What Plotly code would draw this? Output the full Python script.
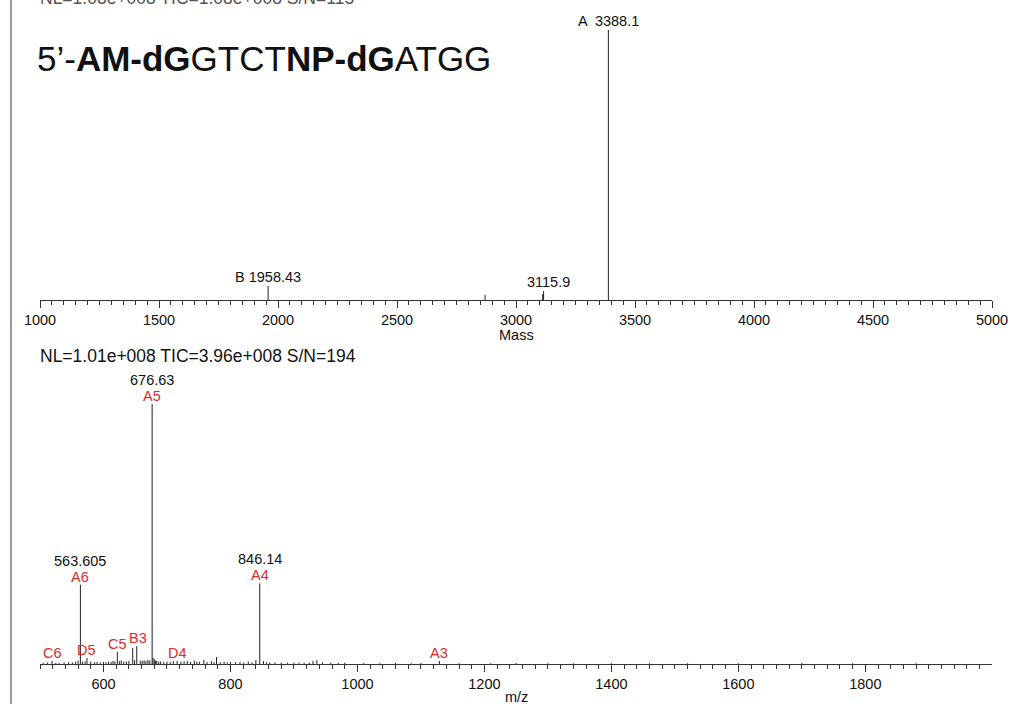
import plotly.graph_objects as go

W, H = 1019, 704
FONT = "Liberation Sans, Arial, sans-serif"
RED = "#dd2a2a"
INK = "#222222"

# ---- deconvoluted mass spectrum (relative intensity, %) ----
mass_vals = [1958.43, 2870.0, 3112.0, 3115.9, 3388.1]
mass_int = [5.2, 1.9, 2.2, 3.3, 100.0]

# ---- ESI m/z spectrum (relative intensity, %) ----
mz_vals = [505, 512, 519, 525, 530, 538, 545, 551, 556, 560, 563.605, 567, 571, 574,
           580, 586, 590, 595, 600, 604, 608, 612, 615, 618, 621.8, 625, 628, 632, 636,
           640, 646, 649, 652.4, 658, 661, 664, 667, 670, 673, 676.63, 678, 680, 682,
           684, 687, 690, 695, 700, 705, 710, 716, 722, 727, 732, 737, 743, 747, 751,
           758, 763, 770, 774, 778, 784, 790, 795, 800, 808, 815, 821, 828, 834, 840,
           846.14, 852, 857, 862, 870, 880, 890, 900, 908, 916, 924, 930, 936, 945,
           958, 970, 980, 1010, 1035, 1060, 1085, 1100, 1129, 1160, 1210, 1250, 1300,
           1340, 1400, 1460, 1520, 1600, 1700, 1780, 1880]
mz_int = [0.5, 0.6, 1.2, 0.5, 0.4, 0.6, 0.7, 0.6, 0.9, 1.3, 30.5, 0.9, 1.0, 2.3,
          1.0, 0.7, 0.8, 0.6, 0.8, 0.7, 0.9, 0.8, 1.2, 1.0, 4.6, 1.1, 1.4, 0.9, 1.0,
          1.2, 6.2, 1.5, 6.9, 1.3, 1.2, 1.4, 1.1, 1.6, 1.4, 100.0, 2.4, 1.9, 1.3,
          1.2, 0.9, 1.0, 0.8, 0.9, 0.8, 1.1, 1.2, 0.9, 1.0, 1.2, 0.8, 1.3, 0.9, 0.9,
          1.6, 0.8, 1.1, 0.7, 2.7, 0.7, 0.9, 0.6, 0.8, 0.7, 0.8, 0.6, 1.0, 0.7, 1.5,
          31.0, 1.1, 0.7, 0.6, 0.6, 0.6, 0.5, 0.5, 0.5, 0.5, 0.5, 1.2, 1.5, 0.6,
          0.5, 0.4, 0.5, 0.4, 0.3, 0.4, 0.3, 0.4, 1.2, 0.3, 0.3, 0.4, 0.3,
          0.3, 0.3, 0.3, 0.3, 0.3, 0.4, 0.3, 0.3]

# labelled peaks
mass_labels = [("A  3388.1", 3388.1, 100.0, 0), ("B 1958.43", 1958.43, 5.2, 0),
               ("3115.9", 3115.9, 3.3, 5)]
mz_value_labels = [("676.63", 676.63, 100.0), ("563.605", 563.605, 30.5),
                   ("846.14", 846.14, 31.0)]
mz_ion_labels = [("A5", 676.63, 100.0, 0), ("A6", 563.605, 30.5, 0), ("A4", 846.14, 31.0, 0),
                 ("C6", 519, 1.2, 0), ("D5", 574, 2.3, 0), ("C5", 621.8, 4.6, 0),
                 ("B3", 652.4, 6.9, 1), ("D4", 716, 1.2, 0), ("A3", 1129, 1.2, 0)]


def sticks(xs, ys):
    px, py = [], []
    for x, y in zip(xs, ys):
        px += [x, x, None]
        py += [0, y, None]
    return px, py


def py_(pix):
    return 1 - pix / H


fig = go.Figure()
sx, sy = sticks(mass_vals, mass_int)
fig.add_trace(go.Scatter(x=sx, y=sy, mode="lines", line=dict(color=INK, width=1),
                         xaxis="x", yaxis="y", hoverinfo="skip"))
sx2, sy2 = sticks(mz_vals, mz_int)
fig.add_trace(go.Scatter(x=sx2, y=sy2, mode="lines", line=dict(color=INK, width=1),
                         xaxis="x2", yaxis="y2", hoverinfo="skip"))

xdom = [40 / W, 992 / W]
axis_common = dict(showgrid=False, zeroline=False, showline=True, linecolor="#333",
                   linewidth=1, ticks="outside", ticklen=7, tickcolor="#333",
                   tickwidth=1, tickfont=dict(family=FONT, size=14.5, color="#111"),
                   domain=xdom, automargin=False)

annotations = []
font_k = dict(family=FONT, size=14.5, color="#111")
font_r = dict(family=FONT, size=14.5, color=RED)

for txt, x, y, dx in mass_labels:
    annotations.append(dict(text=txt, x=x, y=y, xref="x", yref="y", showarrow=False,
                            xanchor="center", yanchor="bottom", yshift=-1, xshift=dx,
                            font=font_k))
for txt, x, y in mz_value_labels:
    annotations.append(dict(text=txt, x=x, y=y, xref="x2", yref="y2", showarrow=False,
                            xanchor="center", yanchor="bottom", yshift=14, font=font_k))
for txt, x, y, dx in mz_ion_labels:
    annotations.append(dict(text=txt, x=x, y=y, xref="x2", yref="y2", showarrow=False,
                            xanchor="center", yanchor="bottom", yshift=-2, xshift=dx,
                            font=font_r))

annotations += [
    dict(text="Mass", x=3000, y=py_(335), xref="x", yref="paper", showarrow=False,
         xanchor="center", yanchor="middle", font=font_k),
    dict(text="m/z", x=1250, y=py_(697), xref="x2", yref="paper", showarrow=False,
         xanchor="center", yanchor="middle", font=font_k),
    dict(text="NL=1.01e+008 TIC=3.96e+008 S/N=194", x=38 / W, y=py_(356),
         xref="paper", yref="paper", showarrow=False, xanchor="left", yanchor="middle",
         font=dict(family=FONT, size=17.5, color="#111")),
    dict(text="NL=1.08e+008 TIC=1.08e+008 S/N=115", x=38 / W, y=py_(-2),
         xref="paper", yref="paper", showarrow=False, xanchor="left", yanchor="middle",
         font=dict(family=FONT, size=17.5, color="#555")),
    dict(text="5’-<b>AM-dG</b>GTCT<b>NP-dG</b>ATGG", x=35 / W, y=py_(58),
         xref="paper", yref="paper", showarrow=False, xanchor="left", yanchor="middle",
         font=dict(family=FONT, size=35, color="#111")),
]

fig.update_layout(
    width=W, height=H, margin=dict(l=0, r=0, t=0, b=0, autoexpand=False),
    paper_bgcolor="white", plot_bgcolor="white", showlegend=False,
    xaxis=dict(**axis_common, range=[1000, 5000], tick0=0, dtick=500, anchor="y",
               minor=dict(dtick=50, tick0=0, ticks="outside", ticklen=4, tickcolor="#333")),
    yaxis=dict(domain=[py_(300), py_(30)], range=[0, 100], visible=False, fixedrange=True),
    xaxis2=dict(**axis_common, range=[500, 1999.5], tick0=0, dtick=200, anchor="y2",
                minor=dict(dtick=20, tick0=0, ticks="outside", ticklen=4, tickcolor="#333")),
    yaxis2=dict(domain=[py_(664), py_(404)], range=[0, 100], visible=False, fixedrange=True),
    annotations=annotations,
    shapes=[dict(type="line", xref="paper", yref="paper", x0=11 / W, x1=11 / W,
                 y0=0, y1=1, line=dict(color="#9a9a9a", width=2))],
)

fig.write_html("out.html")
